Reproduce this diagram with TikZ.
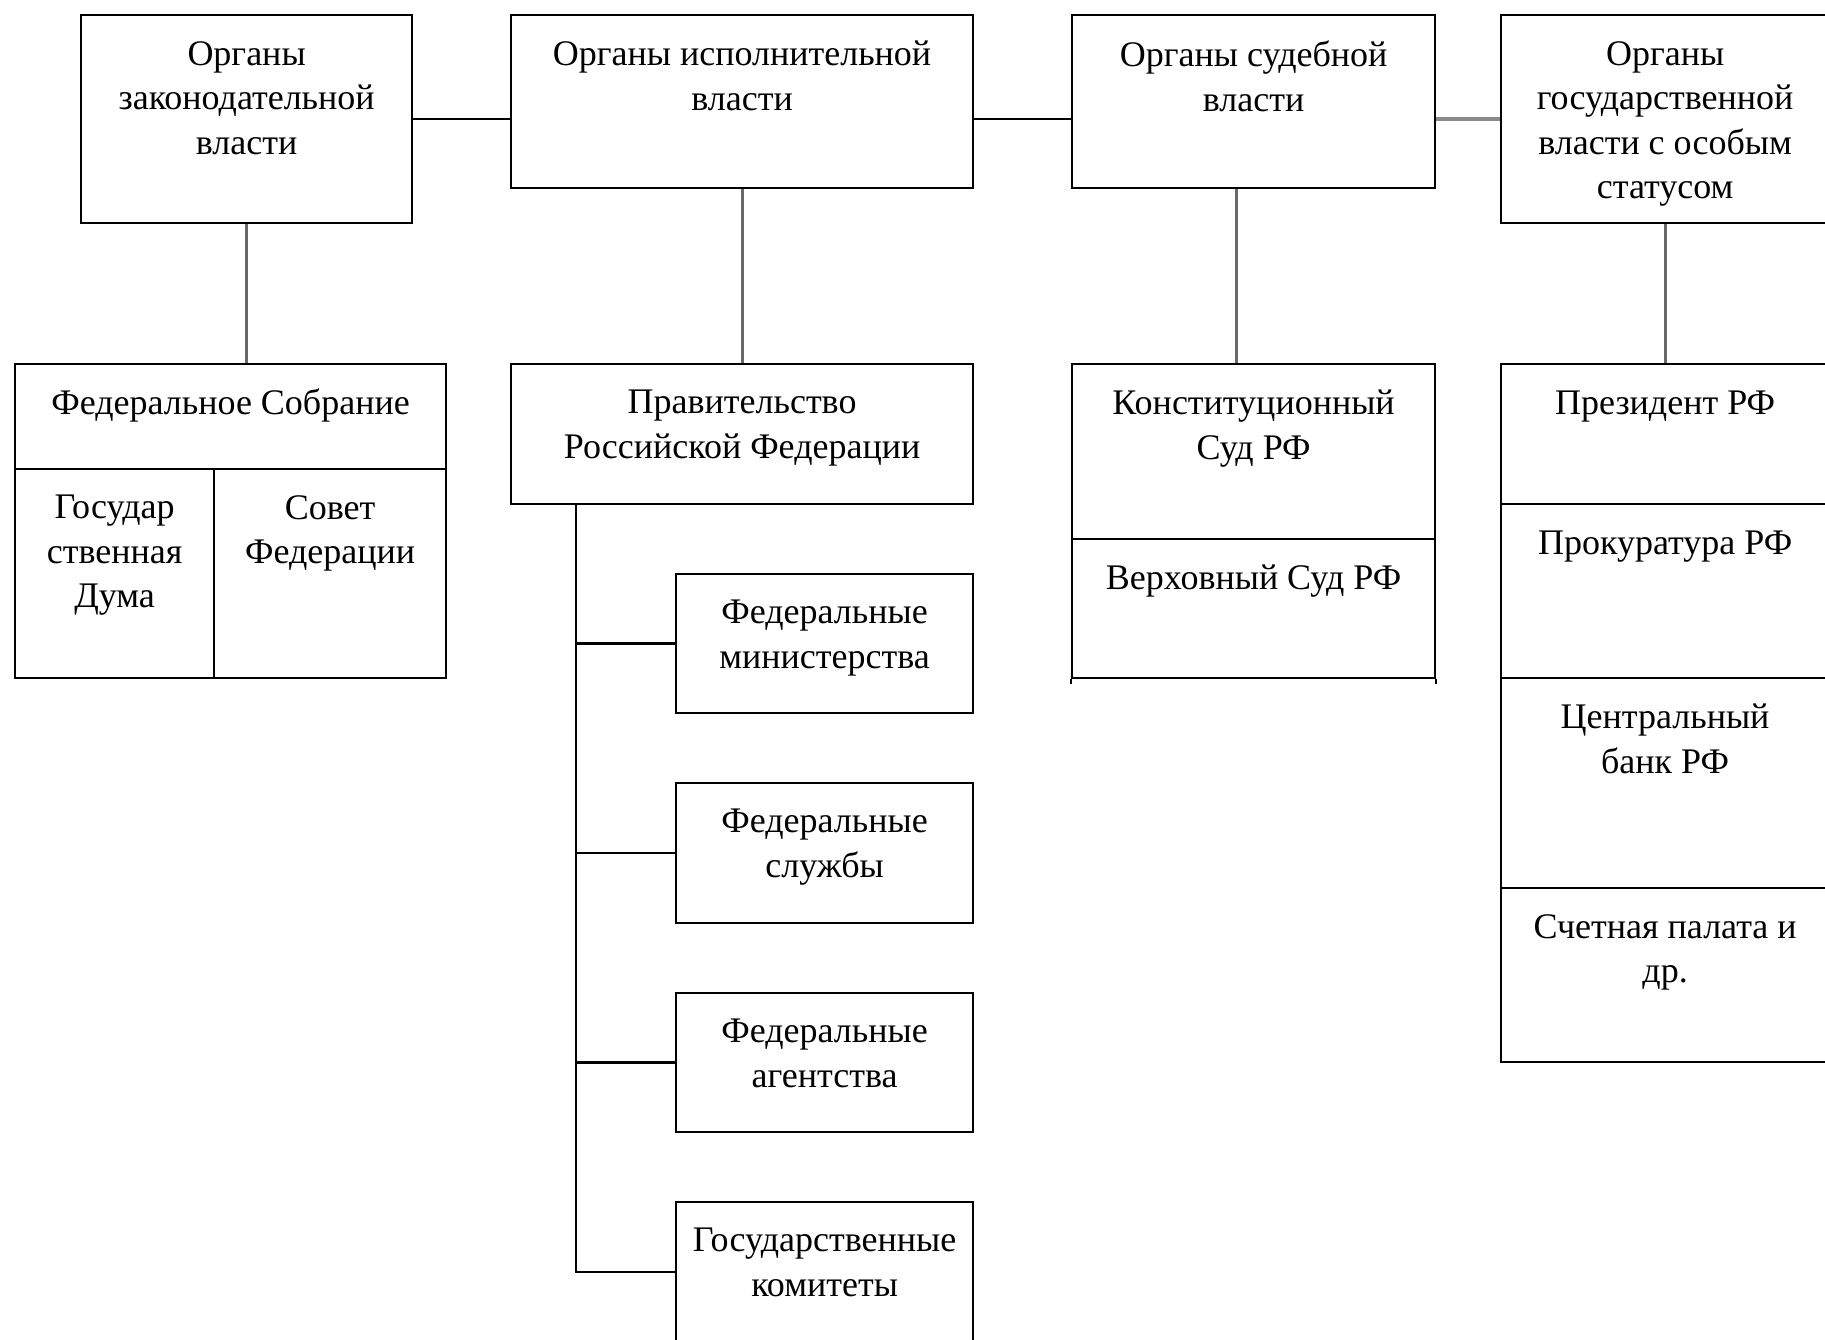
\documentclass[tikz,border=0pt]{standalone}
\usepackage{fontspec}
\setmainfont{Liberation Serif}
\definecolor{vgray}{HTML}{6A6A6A}
\definecolor{hgray}{HTML}{8A8A8A}
\begin{document}
\begin{tikzpicture}[x=1pt,y=-1pt,
  cell/.style={draw=black, line width=2.2pt, rectangle, inner sep=0pt, anchor=north west},
  lbl/.style={anchor=north, inner sep=0pt, align=center,
    font=\fontsize{36}{44.5}\selectfont,
    execute at begin node={\rule{0pt}{30pt}}},
  hline/.style={draw=black, line width=2.4pt},
  hgline/.style={draw=hgray, line width=4.5pt},
  vline/.style={draw=vgray, line width=3pt},
  tline/.style={draw=black, line width=2.4pt}]
\useasboundingbox (0,0) rectangle (1825,1340);
\fill[white] (0,0) rectangle (1825,1340);
\clip (0,0) rectangle (1825,1340);

% top row
\node[cell, minimum width=331pt, minimum height=208pt] (A) at (80,14) {};
\node[cell, minimum width=462pt, minimum height=173pt] (B) at (510,14) {};
\node[cell, minimum width=363pt, minimum height=173pt] (C) at (1071,14) {};
\node[cell, minimum width=328pt, minimum height=208pt] (D) at (1500,14) {};

\node[lbl] (tA) at ([yshift=-27pt]A.north) {Органы\\законодательной\\власти};
\node[lbl] (tB) at ([yshift=-27pt]B.north) {Органы исполнительной\\власти};
\node[lbl] (tC) at ([yshift=-27pt]C.north) {Органы судебной\\власти};
\node[lbl] (tD) at ([yshift=-27pt]D.north) {Органы\\государственной\\власти с особым\\статусом};

% legislative
\node[cell, minimum width=431pt, minimum height=105pt] (FA) at (14,363) {};
\node[cell, minimum width=199pt, minimum height=209pt] (GD) at (14,468) {};
\node[cell, minimum width=232pt, minimum height=209pt] (SF) at (213,468) {};
\node[lbl] (tFA) at ([yshift=-21pt]FA.north) {Федеральное Собрание};
\node[lbl] (tGD) at ([yshift=-27pt]GD.north) {Государ\\ственная\\Дума};
\node[lbl] (tSF) at ([yshift=-27pt]SF.north) {Совет\\Федерации};

% executive
\node[cell, minimum width=462pt, minimum height=140pt] (Gov) at (510,363) {};
\node[lbl] (tGov) at ([yshift=-27pt]Gov.north) {Правительство\\Российской Федерации};
\node[cell, minimum width=297pt, minimum height=139pt] (M1) at (675,573) {};
\node[cell, minimum width=297pt, minimum height=140pt] (M2) at (675,782) {};
\node[cell, minimum width=297pt, minimum height=139pt] (M3) at (675,992) {};
\node[cell, minimum width=297pt, minimum height=140pt] (M4) at (675,1201) {};
\node[lbl] (tM1) at ([yshift=-27pt]M1.north) {Федеральные\\министерства};
\node[lbl] (tM2) at ([yshift=-27pt]M2.north) {Федеральные\\службы};
\node[lbl] (tM3) at ([yshift=-27pt]M3.north) {Федеральные\\агентства};
\node[lbl] (tM4) at ([yshift=-27pt]M4.north) {Государственные\\комитеты};

% judicial
\node[cell, minimum width=363pt, minimum height=175pt] (KS) at (1071,363) {};
\node[cell, minimum width=363pt, minimum height=139pt] (VS) at (1071,538) {};
\node[lbl] (tKS) at ([yshift=-27pt]KS.north) {Конституционный\\Суд РФ};
\node[lbl] (tVS) at ([yshift=-21pt]VS.north) {Верховный Суд РФ};
\draw[tline] (VS.south west) -- ++(0,5);
\draw[tline] (VS.south east) -- ++(0,5);

% special status
\node[cell, minimum width=328pt, minimum height=140pt] (Pres) at (1500,363) {};
\node[cell, minimum width=328pt, minimum height=174pt] (Prok) at (1500,503) {};
\node[cell, minimum width=328pt, minimum height=210pt] (CB) at (1500,677) {};
\node[cell, minimum width=328pt, minimum height=174pt] (SP) at (1500,887) {};
\node[lbl] (tPres) at ([yshift=-21pt]Pres.north) {Президент РФ};
\node[lbl] (tProk) at ([yshift=-21pt]Prok.north) {Прокуратура РФ};
\node[lbl] (tCB) at ([yshift=-27pt]CB.north) {Центральный\\банк РФ};
\node[lbl] (tSP) at ([yshift=-27pt]SP.north) {Счетная палата и\\др.};

% horizontal connectors of top row
\draw[hline] (A.east) -- (A.east -| B.west);
\draw[hline] (B.east |- A.east) -- (C.west |- A.east);
\draw[hgline] (C.east |- D.west) -- (D.west);

% vertical connectors
\draw[vline] (A.south) -- (A.south |- FA.north);
\draw[vline] (B.south) -- (Gov.north);
\draw[vline] ([xshift=-17pt]C.south) -- ([xshift=-17pt]C.south |- KS.north);
\draw[vline] (D.south) -- (D.south |- Pres.north);

% executive tree
\coordinate (trunk) at ([xshift=66pt]Gov.south west);
\draw[tline] (trunk) -- (trunk |- M4.west) -- (M4.west);
\draw[tline] (trunk |- M1.west) -- (M1.west);
\draw[tline] (trunk |- M2.west) -- (M2.west);
\draw[tline] (trunk |- M3.west) -- (M3.west);
\end{tikzpicture}
\end{document}
